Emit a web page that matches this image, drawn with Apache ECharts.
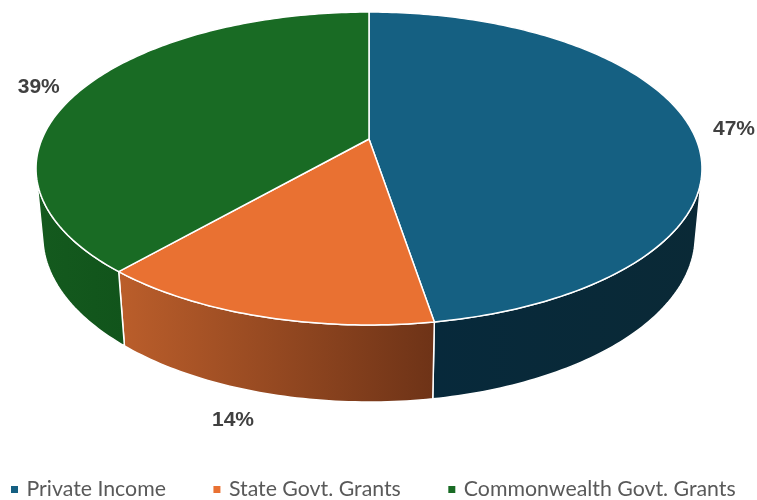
<!DOCTYPE html>
<html><head><meta charset="utf-8">
<style>html,body{margin:0;padding:0;background:#fff}#c{width:757px;height:500px}</style>
<script src="https://cdn.jsdelivr.net/npm/echarts@6/dist/echarts.min.js"></script></head>
<body><div id="c"></div>
<script>
const categories = ['Private Income', 'State Govt. Grants', 'Commonwealth Govt. Grants'];
const values = [47.4, 14.0, 38.6];
const topColors = ['#156082', '#E97132', '#196B24'];
const wallLeftColors = ['#07293b', '#bb5e2b', '#145a1e'];
const wallRightColors = ['#0a2936', '#6e3317', '#11541b'];
const labelOffsets = [[44, 2], [-27, 104], [-43, -2]];

const CX = 369, CY = 139, A = 327, B = 150.9, K = 0.1885;
const WALL_M = 0.02, WALL_N = 67.8;
const WALL_FROM = 104 * Math.PI / 180, WALL_TO = 2 * Math.PI - WALL_FROM;
function project(theta, z) {
  const u = Math.sin(theta), v = -Math.cos(theta);
  const d = 1 - K * v + WALL_M * z;
  return [CX + A * u / d, CY + (B * v + WALL_N * z) / d];
}
function arc(t0, t1, z) {
  const n = Math.max(2, Math.ceil(Math.abs(t1 - t0) * 60)), pts = [];
  for (let i = 0; i <= n; i++) pts.push(project(t0 + (t1 - t0) * i / n, z));
  return pts;
}
const total = values.reduce((a, b) => a + b, 0);
function range(i) {
  let s = 0;
  for (let k = 0; k < i; k++) s += values[k];
  return [s / total * 2 * Math.PI, (s + values[i]) / total * 2 * Math.PI];
}
function xExtent(pts) {
  const xs = pts.map(p => p[0]);
  return [Math.min.apply(null, xs), Math.max.apply(null, xs)];
}
const series = [];
categories.forEach((name, i) => {
  series.push({
    name, type: 'custom', coordinateSystem: 'none', z: 1, silent: true,
    itemStyle: { color: topColors[i] }, data: [[values[i]]],
    renderItem() {
      const [r0, r1] = range(i);
      const t0 = Math.max(r0, WALL_FROM), t1 = Math.min(r1, WALL_TO);
      const top = arc(t0, t1, 0), bottom = arc(t1, t0, 1);
      const pts = top.concat(bottom);
      const [x0, x1] = xExtent(pts);
      return {
        type: 'polygon', shape: { points: pts },
        style: {
          fill: new echarts.graphic.LinearGradient(x0, 0, x1, 0,
            [{ offset: 0, color: wallLeftColors[i] }, { offset: 1, color: wallRightColors[i] }], true),
          stroke: '#fff', lineWidth: 1.5, lineJoin: 'round'
        }
      };
    }
  });
});
categories.forEach((name, i) => {
  series.push({
    name, type: 'custom', coordinateSystem: 'none', z: 2, silent: true,
    itemStyle: { color: topColors[i] }, data: [[values[i]]],
    renderItem() {
      const [t0, t1] = range(i);
      const pts = [[CX, CY]].concat(arc(t0, t1, 0));
      const anchor = project((t0 + t1) / 2, 0);
      return {
        type: 'group',
        children: [
          { type: 'polygon', shape: { points: pts },
            style: { fill: topColors[i], stroke: '#fff', lineWidth: 1.5, lineJoin: 'round' } },
          { type: 'text', x: anchor[0] + labelOffsets[i][0], y: anchor[1] + labelOffsets[i][1],
            style: { text: Math.round(values[i]) + '%', fill: '#404040',
              font: 'bold 21px "Liberation Sans", Arial, sans-serif', align: 'center', verticalAlign: 'middle' } }
        ]
      };
    }
  });
});
const chart = echarts.init(document.getElementById('c'), null, { renderer: 'canvas' });
chart.setOption({
  animation: false,
  backgroundColor: '#fff',
  legend: {
    data: categories.map((name, i) => ({ name, icon: 'rect', itemStyle: { color: topColors[i] } })),
    left: 11, top: 479, itemWidth: 7, itemHeight: 7, itemGap: 47.5, selectedMode: false, padding: [0, 0, 0, 0],
    textStyle: { color: '#595959', fontSize: 21.3, fontFamily: 'Lato', padding: [0, 0, 0, 3.5] }
  },
  series
});
</script></body></html>
